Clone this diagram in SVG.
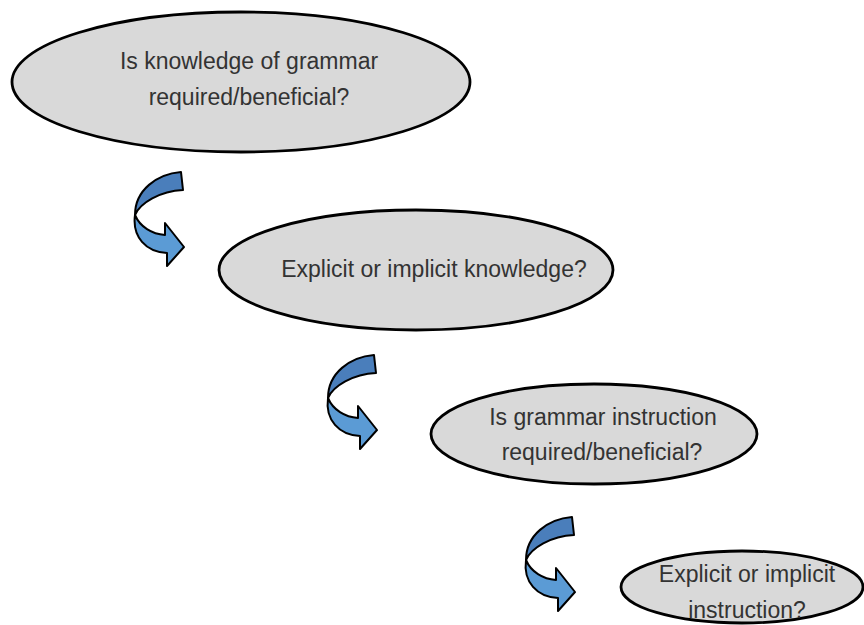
<svg xmlns="http://www.w3.org/2000/svg" width="864" height="625" viewBox="0 0 864 625">
<style>
.node ellipse{fill:#d9d9d9;stroke:#000;stroke-width:2.8}
.node text{font-family:"Liberation Sans",Arial,sans-serif;font-size:23px;fill:#333;text-anchor:middle}
.dark{fill:#4a7ebb;stroke:#000;stroke-width:2;stroke-linejoin:round}
.light{fill:#5b9bd5;stroke:#000;stroke-width:2;stroke-linejoin:round}
</style>
<defs>
<g id="curl">
<path class="light" d="M15,50 C20,62 32,69 45,70 L45,58 L64,82 L47,101 L47,88 C26,87 12,72 15,50 Z"/>
<path class="dark" d="M61,7 L63,25 C40,26 20,38 15,50 C15,25 37,9 61,7 Z"/>
</g>
</defs>
<rect width="864" height="625" fill="#fff"/>
<g id="node1" class="node">
<ellipse cx="241" cy="82" rx="229" ry="70"/>
<text x="249" y="69">Is knowledge of grammar</text>
<text x="249" y="105">required/beneficial?</text>
</g>
<g id="node2" class="node">
<ellipse cx="416" cy="270" rx="197" ry="60"/>
<text x="434" y="277">Explicit or implicit knowledge?</text>
</g>
<g id="node3" class="node">
<ellipse cx="594" cy="434" rx="163" ry="50"/>
<text x="603" y="425">Is grammar instruction</text>
<text x="602" y="460">required/beneficial?</text>
</g>
<g id="node4" class="node">
<ellipse cx="742" cy="587" rx="121" ry="36"/>
<text x="747" y="582">Explicit or implicit</text>
<text x="747" y="618">instruction?</text>
</g>
<g id="connectors">
<use href="#curl" transform="translate(120,165)"/>
<use href="#curl" transform="translate(313,348)"/>
<use href="#curl" transform="translate(511,510)"/>
</g>
</svg>
